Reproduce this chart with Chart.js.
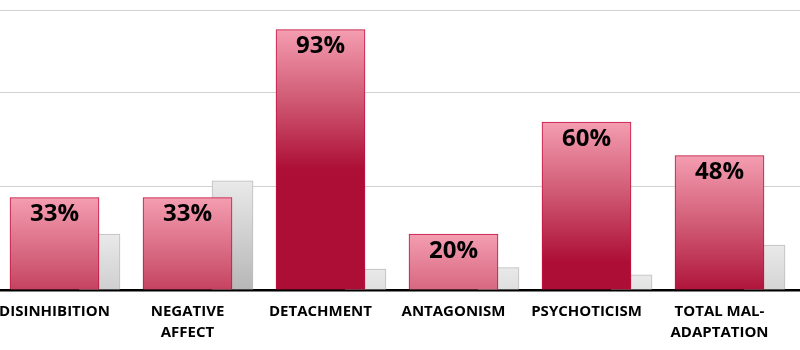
<!DOCTYPE html>
<html>
<head>
<meta charset="utf-8">
<script src="https://cdn.jsdelivr.net/npm/chart.js@4/dist/chart.umd.min.js"></script>
<style>
  html, body { margin: 0; padding: 0; background: #fff; }
  #wrap { width: 800px; height: 350px; }
</style>
</head>
<body>
<div id="wrap"><canvas id="chart"></canvas></div>
<script>
// data
const categories = [['DISINHIBITION'], ['NEGATIVE', 'AFFECT'], ['DETACHMENT'], ['ANTAGONISM'], ['PSYCHOTICISM'], ['TOTAL MAL-', 'ADAPTATION']];
const mainValues = [33, 33, 93, 20, 60, 48];
const compareValues = [20, 39, 7.5, 8, 5.4, 16];
const gridTicks = [0, 37.1, 70.4, 100];

// layout: one category = 133px, grey bar sits 45px right of the red one
const catPx = 133;
const greyShift = 45 / catPx;

const redGradient = (ctx) => {
  const chart = ctx.chart;
  if (!chart.chartArea || ctx.parsed == null) return '#d05070';
  const top = chart.scales.y.getPixelForValue(ctx.parsed.y);
  const g = chart.ctx.createLinearGradient(0, top, 0, top + 140);
  g.addColorStop(0, '#f49db1');
  g.addColorStop(0.5, '#d05a74');
  g.addColorStop(1, '#ad0e36');
  return g;
};

const greyGradient = (ctx) => {
  const chart = ctx.chart;
  if (!chart.chartArea || ctx.parsed == null) return '#d8d8d8';
  const top = chart.scales.y.getPixelForValue(ctx.parsed.y);
  const g = chart.ctx.createLinearGradient(0, top, 0, top + 115);
  g.addColorStop(0, '#e9e9e9');
  g.addColorStop(1, '#b4b4b4');
  return g;
};

// value labels inside the top of the red bars
const valueLabels = {
  id: 'valueLabels',
  afterDatasetsDraw(chart) {
    const c = chart.ctx;
    const meta = chart.getDatasetMeta(0);
    c.save();
    c.font = 'bold 24px "Open Sans"';
    c.fillStyle = '#000';
    c.textAlign = 'center';
    c.textBaseline = 'middle';
    meta.data.forEach((bar, i) => {
      c.fillText(mainValues[i] + '%', bar.x, bar.y + 17);
    });
    c.restore();
  }
};

new Chart(document.getElementById('chart').getContext('2d'), {
  type: 'bar',
  data: {
    datasets: [
      {
        label: 'Main',
        data: mainValues.map((v, i) => ({ x: i, y: v })),
        backgroundColor: redGradient,
        borderColor: '#c3103e',
        borderWidth: 1,
        borderSkipped: 'bottom',
        barThickness: 89,
        grouped: false,
        order: 0,
      },
      {
        label: 'Compare',
        data: compareValues.map((v, i) => ({ x: i + greyShift, y: v })),
        backgroundColor: greyGradient,
        borderColor: '#bdbdbd',
        borderWidth: 1,
        borderSkipped: 'bottom',
        barThickness: 41,
        grouped: false,
        order: 1,
      },
    ],
  },
  options: {
    responsive: true,
    maintainAspectRatio: false,
    animation: false,
    layout: { padding: { top: 10, left: 0, right: 0, bottom: 0 } },
    scales: {
      x: {
        type: 'linear',
        offset: false,
        min: -54.5 / catPx,
        max: (800 - 54.5) / catPx,
        afterBuildTicks: (scale) => { scale.ticks = categories.map((_, i) => ({ value: i })); },
        afterFit: (scale) => {
          scale.height = 60;
          scale.paddingLeft = 0;
          scale.paddingRight = 0;
        },
        grid: { display: false },
        border: { display: true, color: '#000', width: 2.5 },
        ticks: {
          autoSkip: false,
          maxRotation: 0,
          padding: 4,
          color: '#000',
          font: { family: '"Open Sans"', size: 15, weight: 'bold', lineHeight: 1.35 },
          callback: (v) => categories[v],
        },
      },
      y: {
        min: 0,
        max: 100,
        afterBuildTicks: (scale) => { scale.ticks = gridTicks.map((v) => ({ value: v })); },
        afterFit: (scale) => { scale.width = 0; },
        grid: { color: '#d2d2d2', lineWidth: 1, drawTicks: false },
        border: { display: false },
        ticks: { display: false },
      },
    },
    plugins: { legend: { display: false }, tooltip: { enabled: false } },
  },
  plugins: [valueLabels],
});
</script>
</body>
</html>
